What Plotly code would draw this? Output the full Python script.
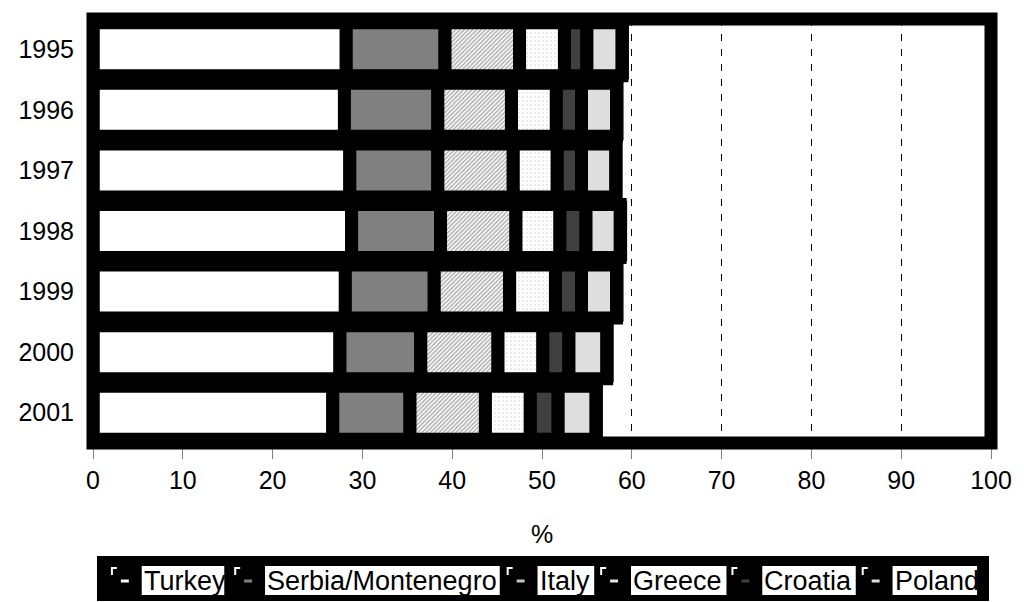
import plotly.graph_objects as go

# Share of each source country (%), one row per year
years = ["1995", "1996", "1997", "1998", "1999", "2000", "2001"]
countries = ["Turkey", "Serbia/Montenegro", "Italy", "Greece", "Croatia", "Poland"]

turkey = [28.2, 28.0, 28.6, 28.8, 28.1, 27.5, 26.7]
serbia_montenegro = [11.0, 10.4, 9.8, 9.9, 9.9, 9.0, 8.6]
italy = [8.3, 8.2, 8.4, 8.4, 8.4, 8.6, 8.4]
greece = [5.0, 5.0, 4.9, 4.9, 5.1, 5.0, 5.0]
croatia = [2.5, 2.8, 2.7, 2.9, 2.9, 2.9, 3.1]
poland = [3.9, 3.9, 3.8, 3.8, 3.9, 4.2, 4.2]

x_ticks = [0, 10, 20, 30, 40, 50, 60, 70, 80, 90, 100]
x_title = "%"

series = [turkey, serbia_montenegro, italy, greece, croatia, poland]

# fill styles per country
fills = [
    dict(color="#ffffff"),
    dict(color="#808080"),
    dict(color="#ffffff", pattern=dict(shape="/", fgcolor="#5e5e5e", bgcolor="#ffffff",
                                       size=3, solidity=0.5)),
    dict(color="#ffffff", pattern=dict(shape=".", fgcolor="#8a8a8a", bgcolor="#ffffff",
                                       size=4, solidity=0.08)),
    dict(color="#404040"),
    dict(color="#dedede"),
]
key_colors = ["#ffffff", "#808080", "#c4c4c4", "#e6e6e6", "#404040", "#dedede"]

W, H = 1024, 602
ML, MR, MT, MB = 93, 28, 19, 159
PW, PH = W - ML - MR, H - MT - MB
FONT = "Liberation Sans, Arial, sans-serif"
STROKE = 13
ROW_PX = PH / len(years)


def px_x(px):
    return (px - ML) / PW


def px_y(py):
    return (H - MB - py) / PH


fig = go.Figure()

# black backing behind each row of segments
totals = [sum(v) for v in zip(*series)]
fig.add_trace(go.Bar(
    orientation="h", y=years, x=totals, base=[0] * len(years),
    width=1 - 14 / ROW_PX,
    marker=dict(color="black", line=dict(color="black", width=14)),
    showlegend=False, hoverinfo="skip",
))

# stacked segments
running = [0.0] * len(years)
for name, vals, fill in zip(countries, series, fills):
    fig.add_trace(go.Bar(
        orientation="h", y=years, x=vals, base=list(running), name=name,
        width=(40 + STROKE) / ROW_PX,
        marker=dict(line=dict(color="black", width=STROKE), **fill),
        showlegend=False,
    ))
    running = [r + v for r, v in zip(running, vals)]

shapes = [
    # heavy frame round the plot area
    dict(type="rect", xref="paper", yref="paper", x0=0, x1=1, y0=0, y1=1,
         line=dict(color="black", width=STROKE), fillcolor="rgba(0,0,0,0)", layer="above"),
    # legend panel
    dict(type="rect", xref="paper", yref="paper", x0=px_x(97), x1=px_x(994),
         y0=px_y(556), y1=px_y(601), line=dict(width=0), fillcolor="black", layer="above"),
]

annotations = [
    dict(text=x_title, xref="paper", yref="paper", x=px_x(544), y=px_y(534),
         showarrow=False, font=dict(family=FONT, size=25, color="black"),
         xanchor="center", yanchor="middle"),
]

# legend entries: corner mark, colour key, label on a white box
label_boxes = [(142, 225), (266, 502), (540, 597), (634, 730), (766, 860), (897, 982)]
for name, col, (bx0, bx1) in zip(countries, key_colors, label_boxes):
    shapes.append(dict(type="path", xref="paper", yref="paper",
                       path=f"M {px_x(bx0 - 30)},{px_y(575)} L {px_x(bx0 - 30)},{px_y(568)} "
                            f"L {px_x(bx0 - 25)},{px_y(568)}",
                       line=dict(color="white", width=2), layer="above"))
    shapes.append(dict(type="line", xref="paper", yref="paper",
                       x0=px_x(bx0 - 21), x1=px_x(bx0 - 13), y0=px_y(581), y1=px_y(581),
                       line=dict(color=col, width=3), layer="above"))
    shapes.append(dict(type="rect", xref="paper", yref="paper",
                       x0=px_x(bx0), x1=px_x(bx1), y0=px_y(566), y1=px_y(595),
                       line=dict(width=0), fillcolor="white", layer="above"))
    annotations.append(dict(text=name, xref="paper", yref="paper",
                            x=px_x(bx0), y=px_y(581), xanchor="left", yanchor="middle",
                            showarrow=False, font=dict(family=FONT, size=27, color="black")))

fig.update_layout(
    width=W, height=H,
    margin=dict(l=ML, r=MR, t=MT, b=MB, pad=0),
    paper_bgcolor="white", plot_bgcolor="white",
    barmode="overlay",
    font=dict(family=FONT, size=25, color="black"),
    shapes=shapes, annotations=annotations,
    xaxis=dict(range=[0, 100], tickvals=x_ticks, ticks="outside", ticklen=15,
               tickcolor="#808080", tickwidth=1, showgrid=True, gridcolor="black",
               gridwidth=1, griddash="7px,8px", zeroline=False, showline=False,
               tickfont=dict(family=FONT, size=25, color="black")),
    yaxis=dict(type="category", autorange="reversed", showgrid=False, zeroline=False,
               ticks="", showline=False, ticklabelstandoff=18,
               tickfont=dict(family=FONT, size=25, color="black")),
)

fig.write_html("out.html")
